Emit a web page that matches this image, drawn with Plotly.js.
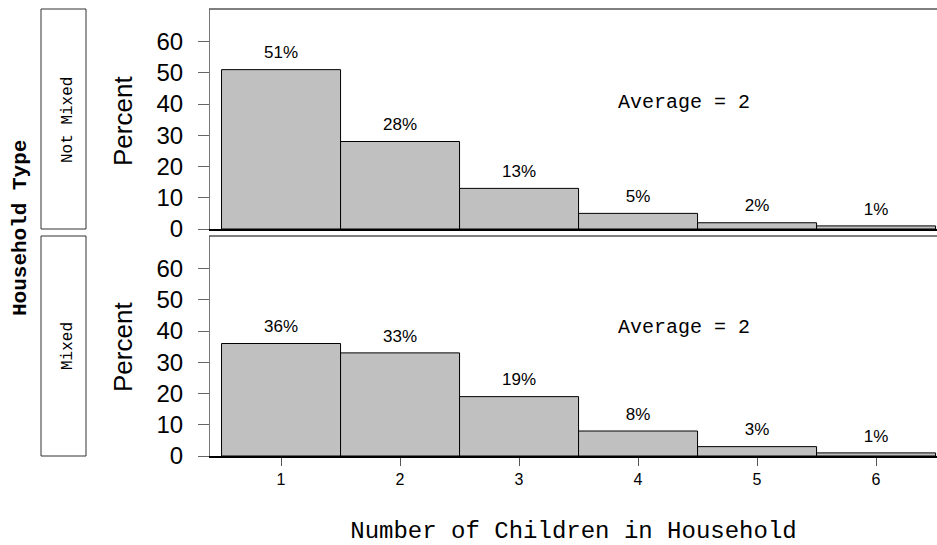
<!DOCTYPE html>
<html>
<head>
<meta charset="utf-8">
<script src="https://cdn.plot.ly/plotly-3.0.1.min.js"></script>
<style>
  html, body { margin: 0; padding: 0; background: #fff; }
  #chart { width: 937px; height: 545px; }
</style>
</head>
<body>
<div id="chart"></div>
<script>
// Number of children per household, by household type (percent of households)
const children = [1, 2, 3, 4, 5, 6];
const householdTypes = ["Not Mixed", "Mixed"];
const notMixedPct = [51, 28, 13, 5, 2, 1];
const mixedPct = [36, 33, 19, 8, 3, 1];
const averages = [2, 2];
const yTicks = [0, 10, 20, 30, 40, 50, 60];

// plot frame in pixels
const W = 937, H = 545;
const M = { l: 210, r: 0, t: 9, b: 89 };
const plotW = W - M.l - M.r, plotH = H - M.t - M.b;
const px = x => (x - M.l) / plotW;          // pixel x -> paper x
const py = y => (H - M.b - y) / plotH;      // pixel y -> paper y

const sans = "Liberation Sans, Arial, sans-serif";
const mono = "Liberation Mono, DejaVu Sans Mono, monospace";

const barStyle = { color: "#c0c0c0", line: { color: "#000", width: 1 } };
const labelOffset = 5;

function panel(values, xa, ya) {
  return [
    { type: "bar", x: children, y: values, width: 1, marker: barStyle,
      xaxis: xa, yaxis: ya, hoverinfo: "skip", showlegend: false },
    { type: "scatter", mode: "text", x: children,
      y: values.map(v => v + labelOffset),
      text: values.map(v => v + "%"),
      textfont: { family: sans, size: 17, color: "#000" },
      xaxis: xa, yaxis: ya, hoverinfo: "skip", showlegend: false, cliponaxis: false }
  ];
}

const data = [
  ...panel(mixedPct, "x", "y"),
  ...panel(notMixedPct, "x2", "y2")
];

const yAxisBase = {
  range: [0, 70.4], tickvals: yTicks, ticks: "outside", ticklen: 11, tickwidth: 1,
  tickcolor: "#666", showline: true, linecolor: "#777", linewidth: 1,
  showgrid: false, zeroline: false, ticklabelstandoff: 10,
  tickfont: { family: sans, size: 24, color: "#000" }
};
const xRange = [0.403, 6.512];

function rotated(x, y, text, family, size, weight) {
  return { xref: "paper", yref: "paper", x: px(x), y: py(y), text: text,
           textangle: -90, showarrow: false, xanchor: "center", yanchor: "middle",
           font: { family: family, size: size, color: "#000", weight: weight || "normal" } };
}

const layout = {
  width: W, height: H, margin: M,
  paper_bgcolor: "#fff", plot_bgcolor: "#fff",
  bargap: 0,
  xaxis: {
    range: xRange, anchor: "y", tickvals: children, ticks: "outside", ticklen: 8,
    tickcolor: "#555", showline: true, linecolor: "#000", linewidth: 1.5,
    showgrid: false, zeroline: false,
    tickfont: { family: sans, size: 16, color: "#000" },
    title: { text: "Number of Children in Household", standoff: 38,
             font: { family: mono, size: 24, color: "#000" } }
  },
  xaxis2: {
    range: xRange, anchor: "y2", matches: "x", showticklabels: false, ticks: "",
    showline: true, linecolor: "#000", linewidth: 1.5, showgrid: false, zeroline: false
  },
  yaxis: Object.assign({}, yAxisBase, { domain: [0, py(236)], anchor: "x" }),
  yaxis2: Object.assign({}, yAxisBase, { domain: [py(229), 1], anchor: "x2" }),
  shapes: [
    // top border of each panel
    { type: "line", xref: "paper", yref: "paper", x0: px(209), x1: 1, y0: 1, y1: 1,
      line: { color: "#555", width: 1.5 } },
    { type: "line", xref: "paper", yref: "paper", x0: px(209), x1: 1, y0: py(236), y1: py(236),
      line: { color: "#555", width: 1.5 } },
    // strip boxes
    { type: "rect", xref: "paper", yref: "paper", x0: px(41), x1: px(86), y0: py(229), y1: py(9),
      line: { color: "#333", width: 1 } },
    { type: "rect", xref: "paper", yref: "paper", x0: px(41), x1: px(86), y0: py(456), y1: py(236),
      line: { color: "#333", width: 1 } }
  ],
  annotations: [
    rotated(68, 120, householdTypes[0], mono, 16),
    rotated(68, 346, householdTypes[1], mono, 16),
    rotated(21, 228, "Household Type", mono, 21, "bold"),
    rotated(123, 121, "Percent", sans, 26),
    rotated(123, 347, "Percent", sans, 26),
    { xref: "x2", yref: "y2", x: 4.39, y: 40.5, text: "Average = " + averages[0],
      showarrow: false, font: { family: mono, size: 20, color: "#000" } },
    { xref: "x", yref: "y", x: 4.39, y: 41, text: "Average = " + averages[1],
      showarrow: false, font: { family: mono, size: 20, color: "#000" } }
  ]
};

Plotly.newPlot("chart", data, layout, { displayModeBar: false, staticPlot: true });
</script>
</body>
</html>
